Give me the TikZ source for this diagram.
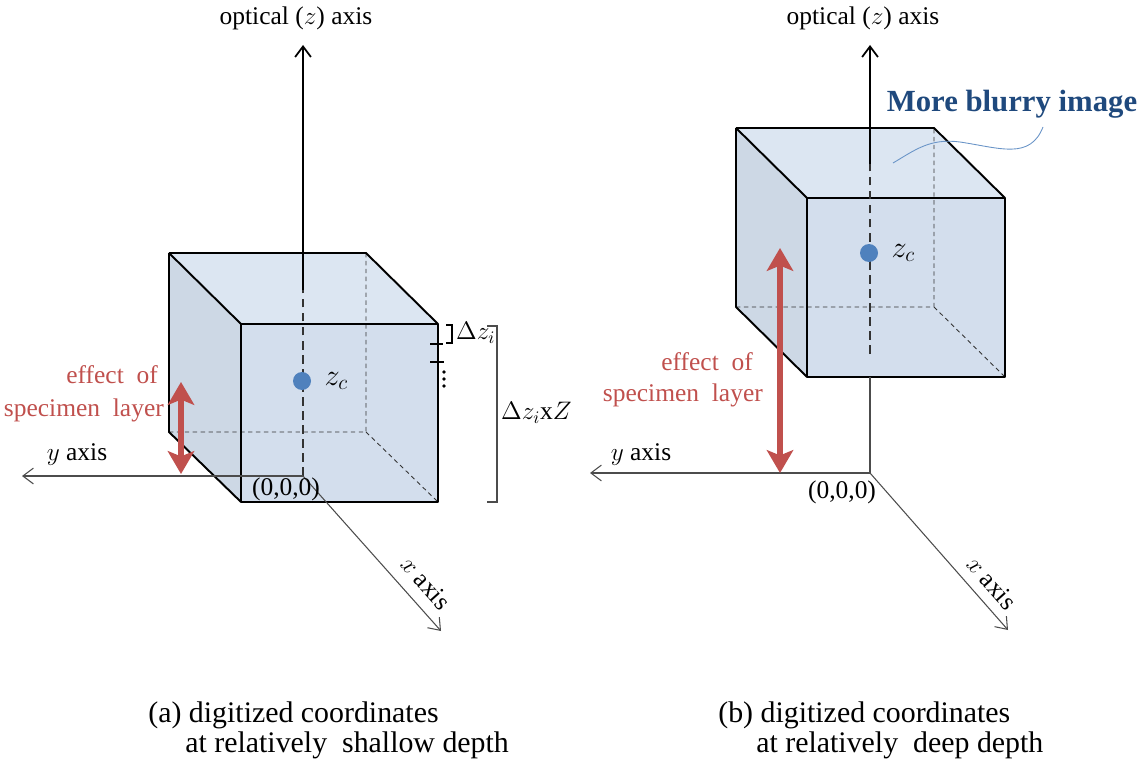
\documentclass[tikz,border=0pt]{standalone}
\usepackage{fontspec}
\setmainfont{Liberation Serif}
\usetikzlibrary{arrows.meta,positioning,calc}

\definecolor{frontblue}{HTML}{D3DEED}
\definecolor{topblue}{HTML}{DCE6F2}
\definecolor{sideblue}{HTML}{CDD8E5}
\definecolor{layerred}{HTML}{C0504D}
\definecolor{dotblue}{HTML}{4F81BD}
\definecolor{noteblue}{HTML}{1F497D}

\begin{document}
\begin{tikzpicture}[
  x=0.02cm, y=-0.02cm,
  font=\fontsize{14.5}{17}\selectfont,
  edge/.style={line width=1.1pt, line join=round},
  hidden/.style={dash pattern=on 2.5pt off 2pt, line width=0.5pt, black!80},
  zdash/.style={dash pattern=on 5pt off 3pt, line width=0.7pt, black!80},
  ax/.style={-{Straight Barb[length=6pt,width=9pt]}, line width=0.6pt, black!70},
  zax/.style={-{Straight Barb[length=6pt,width=9pt]}, line width=1pt},
  layer/.style={{Stealth[length=13pt,width=15pt,inset=3pt]}-{Stealth[length=13pt,width=15pt,inset=3pt]},
                line width=3.4pt, layerred},
  redtxt/.style={text=layerred, font=\fontsize{14.5}{20}\selectfont, align=right, anchor=east},
  dot/.style={circle, fill=dotblue, inner sep=0pt, minimum size=0.36cm},
  capline/.style={anchor=west, font=\fontsize{17}{20}\selectfont, inner sep=0pt}
]
  \useasboundingbox (0,0) rectangle (1148,763);

  % ---------- (a) shallow depth ----------
  \coordinate (aA) at (241,324); \coordinate (aB) at (438,324);
  \coordinate (aC) at (438,502); \coordinate (aD) at (241,502);
  \coordinate (aE) at (169,253); \coordinate (aF) at (366,253);
  \coordinate (aG) at (366,432); \coordinate (aH) at (169,432);
  \coordinate (aO) at (303,476);
  \coordinate (aZ) at (303,45);  \coordinate (aZs) at (303,290);
  \coordinate (aY) at (22,476);  \coordinate (aX) at (441,631);

  \fill[topblue]   (aE) -- (aF) -- (aB) -- (aA) -- cycle;
  \fill[sideblue]  (aE) -- (aA) -- (aD) -- (aH) -- cycle;
  \fill[frontblue] (aA) -- (aB) -- (aC) -- (aD) -- cycle;
  \draw[hidden] (aH) -- (aG) -- (aF) (aG) -- (aC);
  \draw[edge] (aA) rectangle (aC);
  \draw[edge] (aE) -- (aF) -- (aB) (aE) -- (aA) (aE) -- (aH) -- (aD);

  \draw[zdash] (aO) -- (aZs);
  \draw[zax] (aZs) -- (aZ);
  \draw[ax] (aO) -- (aY);
  \draw[ax] (aO) -- (aX);

  \node (aoptic) at (296,18) {optical ($z$) axis};
  \node (ayax) at (77,455) {$y$ axis};
  \node[rotate=-48.3] (axax) at (426,583) {$x$ axis};
  \node[inner sep=1pt] (aorig) at (286,489) {(0,0,0)};

  \node[dot] (azc) at (302,381) {};
  \node[right=4pt of azc, font=\fontsize{18}{20}\selectfont] (azcl) {$z_c$};

  \coordinate (aRt) at (181,382); \coordinate (aRb) at (181,474);
  \draw[layer] (aRb) -- (aRt);
  \node[redtxt] (aeff) at (164,375) {effect\ \ of};
  \node[redtxt] (aspec) at (170,410) {specimen\ \ layer};

  % layer thickness marks on the right edge
  \draw[line width=0.6pt] (446,325) -- (452,325) -- (452,343) -- (446,343);
  \node[anchor=west, inner sep=1pt] (adz) at (454,333) {$\Delta z_i$};
  \draw[line width=0.6pt] (430,344) -- (443,344) (430,362) -- (444,362);
  \foreach \yy in {372,379,386}
    \fill (444,\yy) circle (1.1pt);
  \draw[line width=0.6pt, black!70] (487,326) -- (497,326) -- (497,502) -- (487,502);
  \node[anchor=west, inner sep=1pt] (adzZ) at (499,413) {$\Delta z_i$x$Z$};

  % ---------- (b) deep depth ----------
  \coordinate (bA) at (807,198); \coordinate (bB) at (1005,198);
  \coordinate (bC) at (1005,377); \coordinate (bD) at (807,377);
  \coordinate (bE) at (736,128); \coordinate (bF) at (934,128);
  \coordinate (bG) at (934,307); \coordinate (bH) at (736,307);
  \coordinate (bO) at (870,473);
  \coordinate (bZ) at (870,45);  \coordinate (bZs) at (870,164);
  \coordinate (bZd) at (870,354); \coordinate (bZb) at (870,377);
  \coordinate (bY) at (590,473); \coordinate (bX) at (1008,630);

  \fill[topblue]   (bE) -- (bF) -- (bB) -- (bA) -- cycle;
  \fill[sideblue]  (bE) -- (bA) -- (bD) -- (bH) -- cycle;
  \fill[frontblue] (bA) -- (bB) -- (bC) -- (bD) -- cycle;
  \draw[hidden] (bH) -- (bG) -- (bF) (bG) -- (bC);
  \draw[edge] (bA) rectangle (bC);
  \draw[edge] (bE) -- (bF) -- (bB) (bE) -- (bA) (bE) -- (bH) -- (bD);

  \draw[zdash] (bZd) -- (bZs);
  \draw[zax] (bZs) -- (bZ);
  \draw[line width=0.6pt, black!70] (bO) -- (bZb);
  \draw[ax] (bO) -- (bY);
  \draw[ax] (bO) -- (bX);

  \node (boptic) at (863,18) {optical ($z$) axis};
  \node (byax) at (641,455) {$y$ axis};
  \node[rotate=-48.3] (bxax) at (992,583) {$x$ axis};
  \node[inner sep=1pt] (borig) at (842,492) {(0,0,0)};

  \node[dot] (bzc) at (869,253) {};
  \node[right=4pt of bzc, font=\fontsize{18}{20}\selectfont] (bzcl) {$z_c$};

  \coordinate (bRt) at (780,248); \coordinate (bRb) at (780,473);
  \draw[layer] (bRb) -- (bRt);
  \node[redtxt] (beff) at (759,362) {effect\ \ of};
  \node[redtxt] (bspec) at (769,395) {specimen\ \ layer};

  % note on blur
  \node[text=noteblue, font=\bfseries\fontsize{17.5}{20}\selectfont] (blur) at (1012,104) {More blurry image};
  \coordinate (blurend) at (893,163);
  \draw[dotblue!85, line width=0.5pt] (blurend) .. controls (915,150) and (930,138) .. (960,142)
    .. controls (1000,148) and (1030,160) .. (1043,127);

  % captions
  \node[capline] (capa1) at (148,715) {(a) digitized coordinates};
  \node[capline] (capa2) at (185,745) {at relatively\ \ shallow depth};
  \node[capline] (capb1) at (718,715) {(b) digitized coordinates};
  \node[capline] (capb2) at (756,745) {at relatively\ \ deep depth};
\end{tikzpicture}
\end{document}
